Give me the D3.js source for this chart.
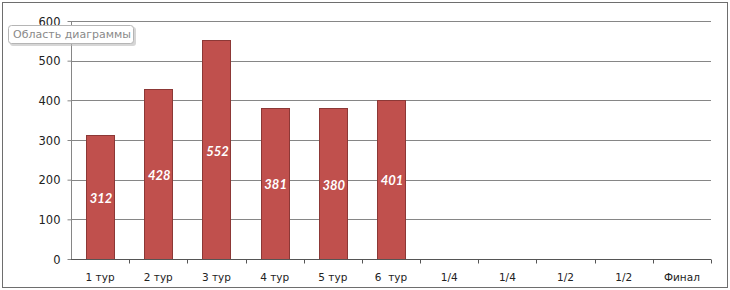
<!DOCTYPE html>
<html>
<head>
<meta charset="utf-8">
<script src="https://cdn.jsdelivr.net/npm/d3@7"></script>
<style>
  body { margin: 0; background: #fff; }
  svg { display: block; }
</style>
</head>
<body>
<svg id="base" width="730" height="290"></svg>
<script>
const categories = ["1 тур", "2 тур", "3 тур", "4 тур", "5 тур", "6  тур", "1/4", "1/4", "1/2", "1/2", "Финал"];
const values = [312, 428, 552, 381, 380, 401, null, null, null, null, null];
const yTicks = [0, 100, 200, 300, 400, 500, 600];

(function () {
    const base = d3.select("#base");
    const left = 71, right = 711, top = 21, bottom = 259;

    // frame
    base.append("rect")
        .attr("x", 2.5).attr("y", 2.5)
        .attr("width", 725).attr("height", 285)
        .attr("fill", "#fff")
        .attr("stroke", "#6e6e6e");

    const x = d3.scaleBand()
        .domain(d3.range(categories.length))
        .range([left, right])
        .paddingInner(0.52)
        .paddingOuter(0.26);

    const y = d3.scaleLinear().domain([0, 600]).range([bottom, top]);

    // gridlines
    base.append("g")
        .selectAll("line")
        .data(yTicks.slice(1))
        .enter()
        .append("line")
        .attr("x1", left).attr("x2", right)
        .attr("y1", (d) => Math.round(y(d)) + 0.5)
        .attr("y2", (d) => Math.round(y(d)) + 0.5)
        .attr("stroke", "#868686");

    // bars
    const shown = values.map((v, i) => ({ v, i })).filter((d) => d.v != null);
    base.append("g")
        .selectAll("rect")
        .data(shown)
        .enter()
        .append("rect")
        .attr("x", (d) => Math.round(x(d.i)) + 0.5)
        .attr("y", (d) => Math.round(y(d.v)) + 0.5)
        .attr("width", Math.round(x.bandwidth()))
        .attr("height", (d) => bottom - Math.round(y(d.v)))
        .attr("fill", "#c0504d")
        .attr("stroke", "#8c3836");

    // value labels
    base.append("g")
        .selectAll("text")
        .data(shown)
        .enter()
        .append("text")
        .attr("x", (d) => x(d.i) + x.bandwidth() / 2 + 1)
        .attr("y", (d) => (y(d.v) + bottom) / 2 + 6)
        .attr("text-anchor", "middle")
        .attr("fill", "#fff")
        .style("font", "italic bold 13px Lato, 'Liberation Sans', sans-serif")
        .text((d) => d.v);

    // y axis
    const yAxis = base.append("g")
        .attr("transform", `translate(${left + 0.5},0)`)
        .call(d3.axisLeft(y).tickValues(yTicks).tickSize(4).tickPadding(7).tickFormat(d3.format("d")));
    yAxis.selectAll("line, path").attr("stroke", "#868686");
    yAxis.select("path").attr("d", `M0,${top}V${bottom}`);
    yAxis.selectAll("text")
        .attr("fill", "#222")
        .attr("dy", "0.35em")
        .style("font", "11.5px Verdana, 'DejaVu Sans', sans-serif");

    // x axis
    const xAxis = base.append("g")
        .attr("transform", `translate(0,${bottom + 0.5})`)
        .call(d3.axisBottom(x).tickSize(0).tickPadding(14).tickFormat((i) => categories[i]));
    xAxis.select("path").attr("stroke", "#555").attr("d", `M${left},0H${right}`);
    xAxis.selectAll("text")
        .attr("fill", "#222")
        .style("white-space", "pre")
        .style("font", "10.5px Verdana, 'DejaVu Sans', sans-serif");
    const step = (right - left) / categories.length;
    xAxis.append("g")
        .selectAll("line")
        .data(d3.range(1, categories.length + 1))
        .enter()
        .append("line")
        .attr("x1", (k) => Math.round(left + k * step) + 0.5)
        .attr("x2", (k) => Math.round(left + k * step) + 0.5)
        .attr("y1", 0).attr("y2", 4)
        .attr("stroke", "#555");

    // hover tooltip box
    const tip = base.append("g").attr("transform", "translate(8,25)");
    tip.append("rect")
        .attr("x", 2).attr("y", 2)
        .attr("width", 126).attr("height", 19).attr("rx", 3)
        .attr("fill", "#bbb").attr("opacity", 0.6);
    tip.append("rect")
        .attr("x", 0.5).attr("y", 0.5)
        .attr("width", 125).attr("height", 18).attr("rx", 3)
        .attr("fill", "#fff").attr("stroke", "#b5b5b5");
    tip.append("text")
        .attr("x", 5).attr("y", 13)
        .attr("fill", "#8a8a8a")
        .style("font", "11px Tahoma, 'DejaVu Sans', sans-serif")
        .text("Область диаграммы");
})();
</script>
</body>
</html>
